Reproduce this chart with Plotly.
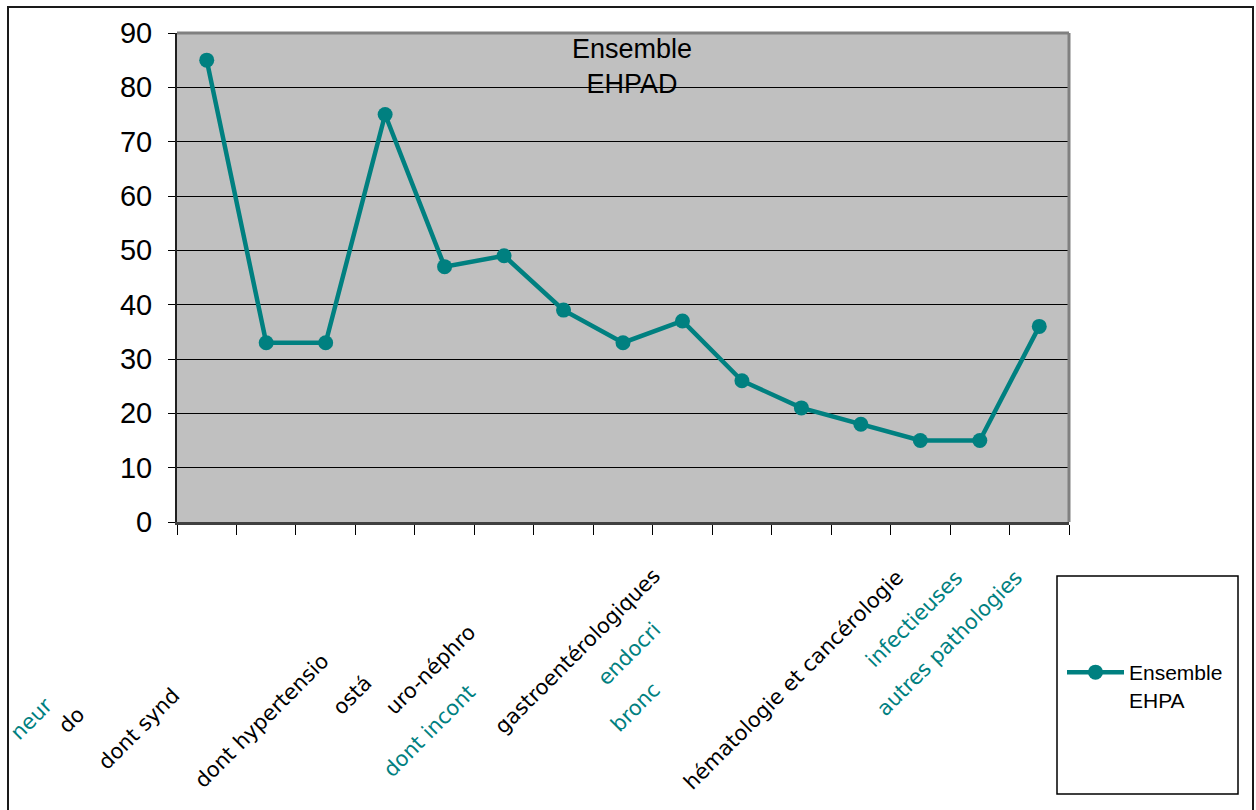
import plotly.graph_objects as go

# ---- data ----
categories = [
    "neuro-psychiatriques", "dont démences", "dont syndromes dépressifs",
    "cardio-vasculaires", "dont hypertension", "ostéo-articulaires",
    "uro-néphrologiques", "dont incontinence", "gastroentérologiques",
    "endocriniennes", "broncho-pulmonaires", "dermatologiques",
    "hématologie et cancérologie", "infectieuses", "autres pathologies",
]
values = [85, 33, 33, 75, 47, 49, 39, 33, 37, 26, 21, 18, 15, 15, 36]
series_name = "Ensemble<br>EHPA"
chart_title = "Ensemble<br>EHPAD"
y_ticks = [0, 10, 20, 30, 40, 50, 60, 70, 80, 90]

# visible (clipped) category labels as they appear under the axis
label_texts = ["neur", "do", "dont synd", "dont hypertensio", "ostá", "uro-néphro",
               "dont incont", "gastroentérologiques", "endocri", "bronc",
               "hématologie et cancérologie", "infectieuses", "autres pathologies"]
label_colors = ["#008080", "#000000", "#000000", "#000000", "#000000", "#000000",
                "#008080", "#000000", "#008080", "#008080",
                "#000000", "#008080", "#008080"]

# ---- layout geometry (pixels) ----
W, H = 1256, 810
PL, PR, PT, PB = 177, 1069, 33, 522
label_anchor_px = [(60, 690), (92, 699), (187, 681), (336, 646), (380, 668),
                   (483, 618), (483, 678), (668, 561), (668, 615), (668, 675),
                   (911, 563), (970, 563), (1030, 563)]


def px2x(px):
    return (px - PL) / (PR - PL)


def py2y(py):
    return (PB - py) / (PB - PT)


TEAL = "#008080"

fig = go.Figure()
fig.add_trace(go.Scatter(
    x=categories, y=values, mode="lines+markers", name=series_name,
    line=dict(color=TEAL, width=4.5),
    marker=dict(color=TEAL, size=15),
    showlegend=True,
))

annotations = [dict(
    text=chart_title, xref="paper", yref="paper", x=px2x(632), y=py2y(66),
    xanchor="center", yanchor="middle", showarrow=False,
    font=dict(family="Liberation Sans, Arial", size=27, color="#000000"),
)]
for t, c, (ax, ay) in zip(label_texts, label_colors, label_anchor_px):
    annotations.append(dict(
        text=t, xref="paper", yref="paper", x=px2x(ax), y=py2y(ay),
        xanchor="right", yanchor="top", showarrow=False, textangle=-45,
        font=dict(family="DejaVu Sans", size=21, color=c),
    ))

shapes = [
    # outer chart frame
    dict(type="rect", xref="paper", yref="paper", x0=px2x(8), x1=px2x(1253),
         y0=py2y(840), y1=py2y(7), line=dict(color="#1a1a1a", width=2)),
    # plot-area border (top/right in grey)
    dict(type="line", xref="paper", yref="paper", x0=0, x1=1, y0=1, y1=1,
         line=dict(color="#808080", width=3)),
    dict(type="line", xref="paper", yref="paper", x0=1, x1=1, y0=0, y1=1,
         line=dict(color="#808080", width=3)),
    # legend box
    dict(type="rect", xref="paper", yref="paper", x0=px2x(1057), x1=px2x(1238),
         y0=py2y(794), y1=py2y(576), line=dict(color="#000000", width=1.5)),
]

fig.update_layout(
    width=W, height=H,
    margin=dict(l=PL, r=W - PR, t=PT, b=H - PB, autoexpand=False),
    paper_bgcolor="#ffffff", plot_bgcolor="#C0C0C0",
    font=dict(family="Liberation Sans, Arial", color="#000000"),
    annotations=annotations, shapes=shapes,
    legend=dict(
        x=px2x(1062), y=py2y(652), xanchor="left", yanchor="top",
        xref="paper", yref="paper", bgcolor="rgba(0,0,0,0)", borderwidth=0,
        font=dict(family="Liberation Sans, Arial", size=21, color="#000000"),
        itemwidth=57, valign="top",
    ),
)
fig.update_xaxes(
    type="category", range=[-0.5, len(categories) - 0.5],
    showticklabels=False, showgrid=False, zeroline=False,
    ticks="outside", tickson="boundaries", ticklen=10, tickcolor="#000000", tickwidth=1,
    showline=True, linecolor="#404040", linewidth=3,
)
fig.update_yaxes(
    range=[0, 90], tickvals=y_ticks, ticks="outside", ticklen=7,
    tickcolor="#000000", tickwidth=1,
    showgrid=True, gridcolor="#000000", gridwidth=1, zeroline=False,
    showline=True, linecolor="#202020", linewidth=2,
    tickfont=dict(family="Liberation Sans, Arial", size=29, color="#000000"),
    ticklabelstandoff=10,
)

fig.write_html("out.html")
